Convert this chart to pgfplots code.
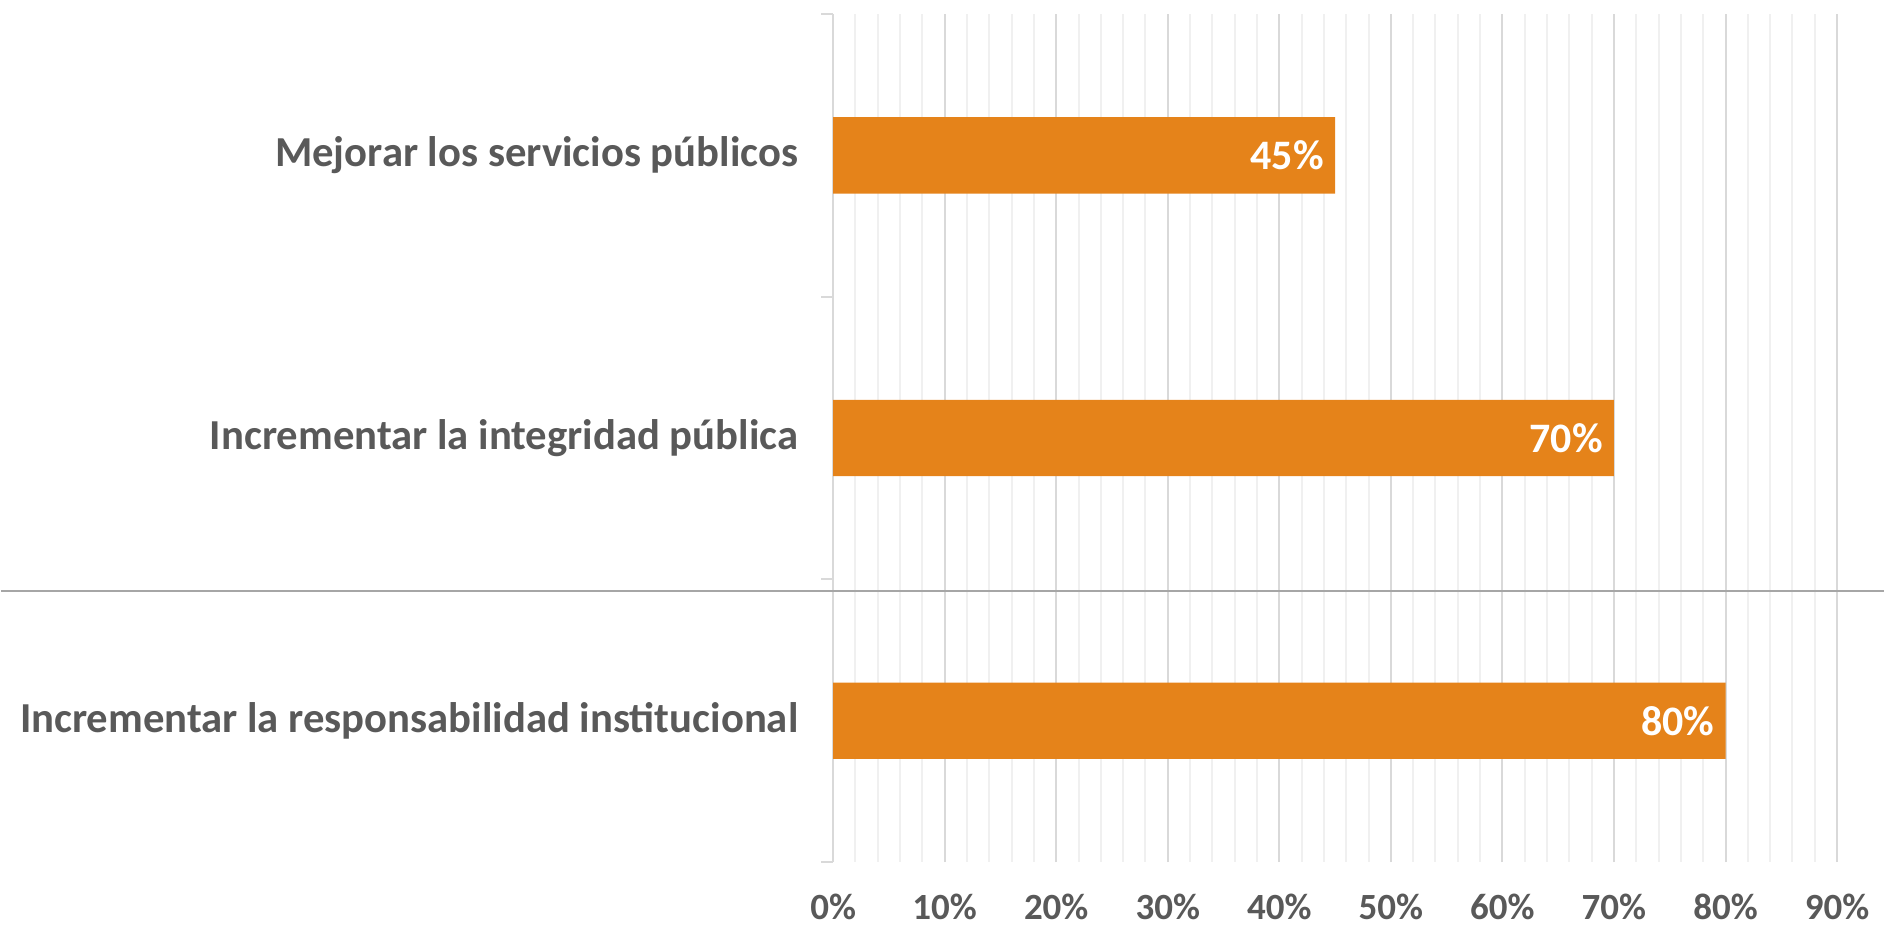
\documentclass[border=0pt]{standalone}
\usepackage{fontspec}
\setmainfont{Carlito}
\usepackage{pgfplots}
\pgfplotsset{compat=1.18}
\usetikzlibrary{calc}
\definecolor{barorange}{HTML}{E5831A}
\definecolor{txtgray}{HTML}{595959}
\definecolor{majgrid}{HTML}{D9D9D9}
\definecolor{mingrid}{HTML}{F0F0F0}
\definecolor{sepline}{HTML}{A6A6A6}

\begin{document}
\begin{tikzpicture}
	\begin{axis}[
		scale only axis,
		width=402pt,
		height=339.6pt,
		xbar,
		bar width=30.6pt,
		xmin=0, xmax=90,
		ymin=-0.5, ymax=2.5,
		xtick={0,10,...,90},
		minor x tick num=4,
		xmajorgrids,
		xminorgrids,
		major grid style={majgrid, line width=0.8pt},
		minor grid style={mingrid, line width=0.8pt},
		axis lines*=left,
		x axis line style={draw=none},
		y axis line style={majgrid, line width=0.8pt},
		xtick style={draw=none},
		minor x tick style={draw=none},
		ytick={-0.5,0.5,1.5,2.5},
		yticklabels={},
		ytick style={majgrid, line width=0.8pt},
		tick align=outside,
		major tick length=4.8pt,
		extra y ticks={0,1,2},
		extra y tick labels={Incrementar la responsabilidad institucional,
			Incrementar la integridad pública,
			Mejorar los servicios públicos},
		extra y tick style={major tick length=0pt},
		yticklabel style={font=\fontsize{17.1}{20}\selectfont\bfseries,
			text=txtgray, xshift=-10.4pt},
		xticklabel={\pgfmathprintnumber{\tick}\%},
		xticklabel style={font=\fontsize{14.8}{18}\selectfont\bfseries,
			text=txtgray, yshift=-4.5pt},
		/pgf/number format/assume math mode=true,
		point meta=x,
		nodes near coords={\pgfmathprintnumber{\pgfplotspointmeta}\%},
		nodes near coords style={anchor=east, text=white, xshift=-1pt,
			font=\fontsize{16.8}{20}\selectfont\bfseries},
	]
		\addplot[fill=barorange, draw=none] coordinates {
			(80,0) (70,1) (45,2)
		};
		\coordinate (bl) at (rel axis cs:0,0);
		\coordinate (tr) at (rel axis cs:1,1);
		\coordinate (hl) at (axis cs:0,0.458);
	\end{axis}
	\pgfresetboundingbox
	\path ($(bl)+(-333.2pt,-25.6pt)$) coordinate (BL)
		rectangle ($(tr)+(18.8pt,5.6pt)$) coordinate (TR);
	\draw[sepline, line width=0.8pt] (hl -| BL) -- (hl -| TR);
\end{tikzpicture}
\end{document}
